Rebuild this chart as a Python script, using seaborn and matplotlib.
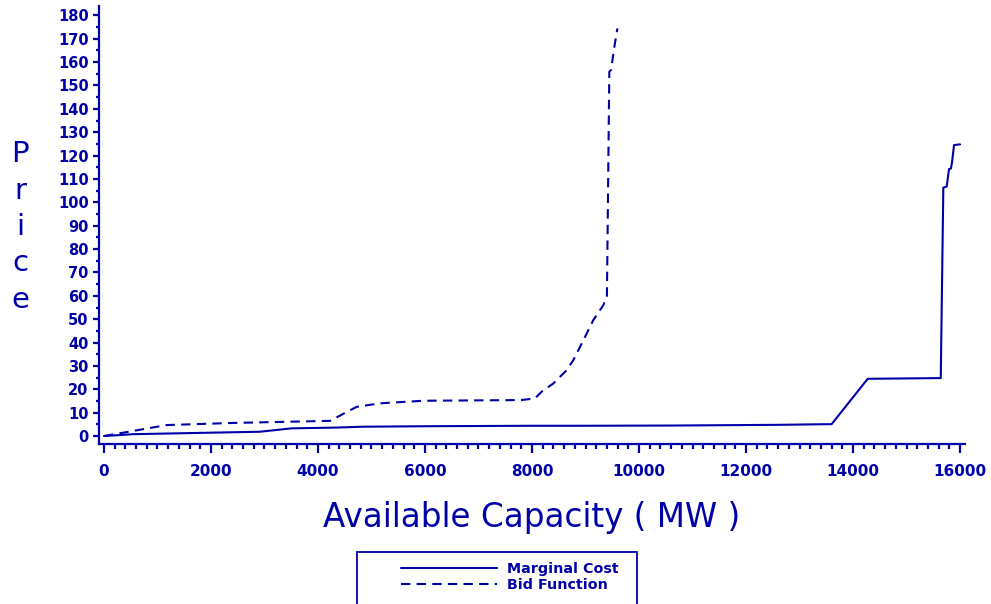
import matplotlib
matplotlib.use("Agg")
import matplotlib.pyplot as plt
import seaborn as sns
import pandas as pd
from matplotlib.patches import Rectangle
from matplotlib.ticker import MultipleLocator

# ---- data ----
mc_capacity = [0, 548, 2916, 3508, 4287, 4847, 6000, 8000, 8897, 10600, 12600,
               13600, 14275, 15640, 15688, 15751, 15794, 15830, 15850, 15888, 16000]
mc_price = [0, 0.8, 1.85, 3.3, 3.6, 4.0, 4.2, 4.4, 4.4, 4.5, 4.8,
            5.1, 24.5, 24.8, 106.3, 106.7, 114.2, 114.5, 117.0, 124.5, 124.8]

bid_capacity = [0, 1171, 2400, 3600, 4224, 4723, 5159, 5963, 7800, 8056, 8181,
                8399, 8648, 8773, 8960, 9146, 9333, 9400, 9413, 9445, 9477, 9540, 9596]
bid_price = [0, 4.7, 5.6, 6.2, 6.5, 12.5, 14.0, 15.1, 15.4, 16.1, 19.0,
             22.5, 28.2, 32.5, 41.0, 49.6, 56.0, 59.6, 86.7, 155.9, 156.6, 166.6, 174.4]

series_names = ["Marginal Cost", "Bid Function"]
x_ticks = list(range(0, 16001, 2000))
y_ticks = list(range(0, 181, 10))

df = pd.concat([
    pd.DataFrame({"Capacity": mc_capacity, "Price": mc_price, "Series": series_names[0]}),
    pd.DataFrame({"Capacity": bid_capacity, "Price": bid_price, "Series": series_names[1]}),
], ignore_index=True)

BLUE = "#0000A8"
sns.set_style("white")
plt.rcParams["font.family"] = ["DejaVu Sans"]

W, H = 991, 604
fig = plt.figure(figsize=(W / 100, H / 100), dpi=100)
ax = fig.add_axes([99 / W, 1 - 444 / H, (965 - 99) / W, (444 - 6) / H])

sns.lineplot(data=df, x="Capacity", y="Price", style="Series", ax=ax,
             color=BLUE, estimator=None, sort=False, linewidth=1.5,
             dashes={series_names[0]: "", series_names[1]: (4.5, 3)},
             legend=False)

ax.set_xlim(-93, 16093)
ax.set_ylim(-3.4, 184)
ax.set_xticks(x_ticks)
ax.set_yticks(y_ticks)
ax.xaxis.set_minor_locator(MultipleLocator(200))
ax.yaxis.set_minor_locator(MultipleLocator(5))

for s in ["top", "right"]:
    ax.spines[s].set_visible(False)
for s in ["left", "bottom"]:
    ax.spines[s].set_color(BLUE)
    ax.spines[s].set_linewidth(1.6)

ax.tick_params(which="both", bottom=True, left=True, top=False, right=False)
ax.tick_params(axis="x", which="major", direction="out", length=6.5, width=1.6,
               color=BLUE, labelcolor=BLUE, labelsize=11, pad=8)
ax.tick_params(axis="x", which="minor", direction="out", length=3.3, width=1.6, color=BLUE)
ax.tick_params(axis="y", which="major", direction="out", length=4, width=1.6,
               color=BLUE, labelcolor=BLUE, labelsize=10.5, pad=3.5)
ax.tick_params(axis="y", which="minor", direction="out", length=2, width=1.6, color=BLUE)
for lab in ax.get_xticklabels() + ax.get_yticklabels():
    lab.set_fontweight("bold")

ax.set_xlabel("")
ax.set_ylabel("")
fig.text(532 / W, 1 - 518 / H, "Available Capacity ( MW )", ha="center", va="center",
         fontsize=23.5, color=BLUE)
fig.text(20 / W, 1 - 227 / H, "P\nr\ni\nc\ne", ha="center", va="center",
         fontsize=21, color=BLUE, linespacing=1.38)

# legend
fig.patches.append(Rectangle((357 / W, -0.05), (637 - 357) / W, 0.05 + (604 - 552) / H,
                             transform=fig.transFigure, fill=False, edgecolor=BLUE,
                             linewidth=1.3))
handles = [plt.Line2D([], [], color=BLUE, lw=1.5),
           plt.Line2D([], [], color=BLUE, lw=1.5, dashes=(4.5, 3))]
fig.legend(handles, series_names, loc="upper left",
           bbox_to_anchor=(394 / W, 1 - 555 / H), frameon=False,
           prop={"weight": "bold", "size": 10.3}, labelcolor=BLUE,
           handlelength=6.7, handletextpad=0.72, labelspacing=0.14, borderpad=0)

fig.savefig("out.png", dpi=100)
